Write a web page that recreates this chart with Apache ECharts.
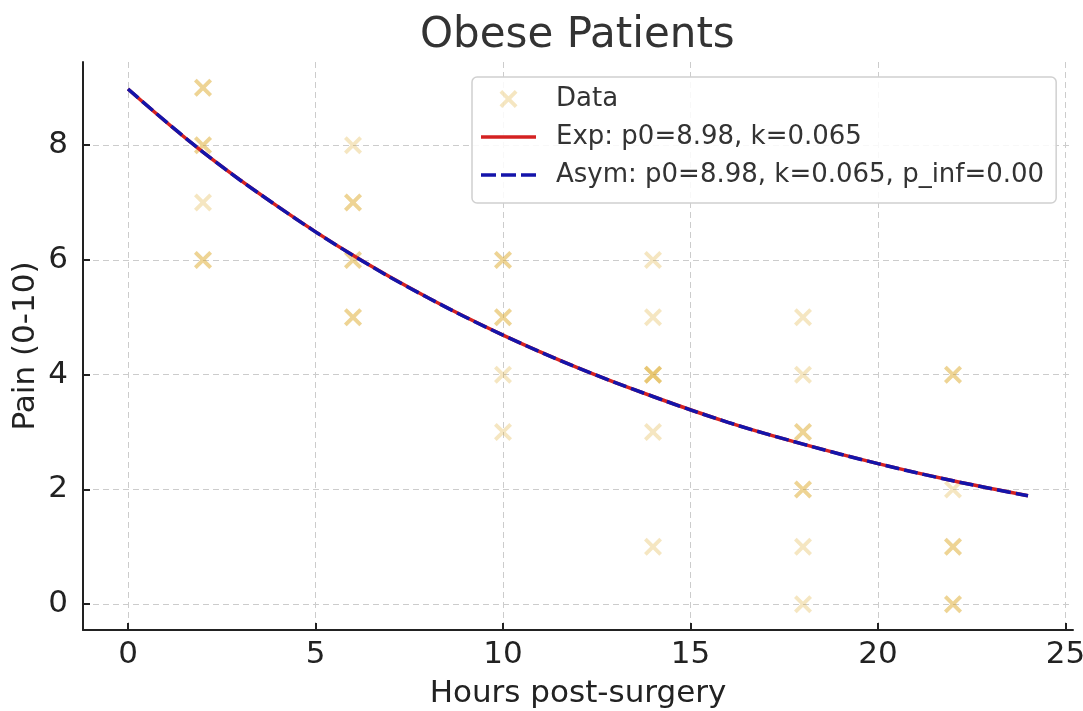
<!DOCTYPE html>
<html>
<head>
<meta charset="utf-8">
<script src="https://cdn.jsdelivr.net/npm/echarts@6/dist/echarts.min.js"></script>
<style>
html,body{margin:0;padding:0;background:#fff;}
#chart{width:1083px;height:711px;}
</style>
</head>
<body>
<div id="chart"></div>
<script>
// Observed data points: [hours, pain]; duplicates are overlapping markers
const hours = [2,2,2,2,2,2,2, 6,6,6,6,6,6,6, 10,10,10,10,10,10, 14,14,14,14,14,14,14, 18,18,18,18,18,18,18,18, 22,22,22,22,22,22,22];
const pain  = [9,9,8,8,7,6,6, 8,7,7,6,6,5,5, 6,6,5,5,4,3, 6,5,4,4,4,3,1, 5,4,3,3,2,2,1,0, 4,4,2,1,1,0,0];

// Fitted curve (every 2 hours)
const fitHours = [0,2,4,6,8,10,12,14,16,18,20,22,24];
const fitExp   = [8.98,7.88,6.93,6.08,5.34,4.69,4.12,3.62,3.17,2.79,2.45,2.15,1.89];
const fitAsym  = [8.98,7.88,6.93,6.08,5.34,4.69,4.12,3.62,3.17,2.79,2.45,2.15,1.89];

const xTicks = [0,5,10,15,20,25];
const yTicks = [0,2,4,6,8];

const labels = {
  title: 'Obese Patients',
  xName: 'Hours post-surgery',
  yName: 'Pain (0-10)',
  data: 'Data',
  exp: 'Exp: p0=8.98, k=0.065',
  asym: 'Asym: p0=8.98, k=0.065, p_inf=0.00'
};

const a = 1.5;
const xPath = 'path://M0,' + a + ' L' + a + ',0 L5,' + (5-a) + ' L' + (10-a) + ',0 L10,' + a +
  ' L' + (5+a) + ',5 L10,' + (10-a) + ' L' + (10-a) + ',10 L5,' + (5+a) + ' L' + a + ',10 L0,' + (10-a) +
  ' L' + (5-a) + ',5 Z';
const solidIcon = 'path://M0,0 H55 V3.5 H0 Z';
const dashIcon = 'path://M0,0 H15 V3.5 H0 Z M20,0 H35 V3.5 H20 Z M40,0 H55 V3.5 H40 Z';

const markerColor = 'rgba(218,165,32,0.35)';
const redColor = '#d42222';
const blueColor = '#1414aa';
const font = 'DejaVu Sans';

const chart = echarts.init(document.getElementById('chart'), null, {renderer: 'canvas'});
chart.setOption({
  backgroundColor: '#ffffff',
  animation: false,
  title: {
    text: labels.title, left: 415, top: 10,
    textStyle: {fontFamily: font, fontSize: 42, fontWeight: 'normal', color: '#333'}
  },
  grid: {left: 83, right: 10, top: 62, bottom: 81, containLabel: false, outerBoundsMode: 'none'},
  legend: {
    orient: 'vertical', left: 472, top: 77,
    padding: [8, 12, 14, 9],
    itemGap: 10, itemWidth: 55, itemHeight: 18,
    backgroundColor: 'rgba(255,255,255,0.85)',
    borderColor: '#d0d0d0', borderWidth: 1.5, borderRadius: 5,
    textStyle: {fontFamily: font, fontSize: 26, color: '#333', lineHeight: 28, padding: [0,0,0,15]},
    data: [
      {name: labels.data, icon: xPath},
      {name: labels.exp, icon: solidIcon, itemStyle: {color: redColor}},
      {name: labels.asym, icon: dashIcon, itemStyle: {color: blueColor}}
    ]
  },
  xAxis: {
    type: 'value', min: -1.2, max: 25.2,
    name: labels.xName, nameLocation: 'middle', nameGap: 48, nameMoveOverlap: false,
    nameTextStyle: {fontFamily: font, fontSize: 31, color: '#222'},
    axisLine: {show: true, onZero: false, lineStyle: {color: '#222', width: 2}},
    axisTick: {show: true, inside: true, length: 7, lineStyle: {color: '#222', width: 2}, customValues: xTicks},
    axisLabel: {fontFamily: font, fontSize: 31, color: '#222', margin: 9, customValues: xTicks},
    splitLine: {show: true, lineStyle: {color: '#cccccc', type: [6, 4], width: 1}}
  },
  yAxis: {
    type: 'value', min: -0.45, max: 9.45,
    name: labels.yName, nameLocation: 'middle', nameGap: 42, nameRotate: 90, nameMoveOverlap: false,
    nameTextStyle: {fontFamily: font, fontSize: 31, color: '#222'},
    axisLine: {show: true, onZero: false, lineStyle: {color: '#222', width: 2}},
    axisTick: {show: true, inside: true, length: 7, lineStyle: {color: '#222', width: 2}, customValues: yTicks},
    axisLabel: {fontFamily: font, fontSize: 31, color: '#222', margin: 15, customValues: yTicks},
    splitLine: {show: true, lineStyle: {color: '#cccccc', type: [6, 4], width: 1}}
  },
  series: [
    {
      name: labels.data, type: 'scatter',
      data: hours.map((h, i) => [h, pain[i]]),
      symbol: xPath, symbolSize: 18,
      itemStyle: {color: markerColor},
      emphasis: {disabled: true}, z: 2
    },
    {
      name: labels.exp, type: 'line',
      data: fitHours.map((h, i) => [h, fitExp[i]]),
      smooth: 0.4, showSymbol: false, symbol: 'none',
      lineStyle: {color: redColor, width: 3.5},
      itemStyle: {color: redColor},
      emphasis: {disabled: true}, z: 3
    },
    {
      name: labels.asym, type: 'line',
      data: fitHours.map((h, i) => [h, fitAsym[i]]),
      smooth: 0.4, showSymbol: false, symbol: 'none',
      lineStyle: {color: blueColor, width: 3.5, type: [14, 5]},
      itemStyle: {color: blueColor},
      emphasis: {disabled: true}, z: 4
    }
  ]
});
</script>
</body>
</html>
